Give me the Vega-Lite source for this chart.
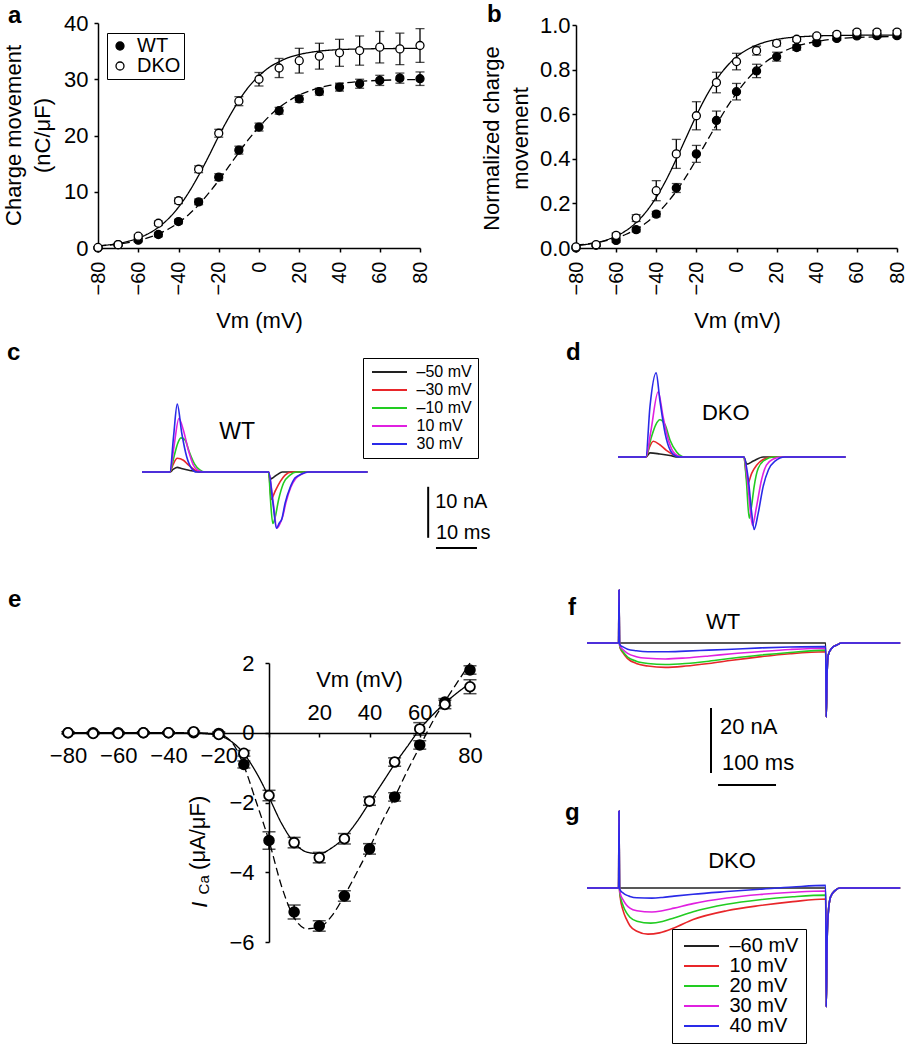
{
"$schema": "https://vega.github.io/schema/vega-lite/v6.json",
"width": 907, "height": 1050,
"autosize": {"type": "none"},
"padding": 0,
"background": "white",
"config": {
 "font": "Liberation Sans",
 "view": {"stroke": null},
 "axis": {"grid": false, "domainColor": "black", "domainWidth": 1.5, "tickColor": "black", "tickWidth": 1.5, "tickSize": 4, "labelColor": "black", "titleColor": "black", "labelFontSize": 22, "titleFontSize": 22, "titleFontWeight": "normal", "labelFont": "Liberation Sans", "titleFont": "Liberation Sans", "labelFlush": false, "labelOverlap": false},
 "legend": {"labelFont": "Liberation Sans", "labelColor": "black"},
 "text": {"color": "black", "font": "Liberation Sans"}
},
"datasets": {
 "curveA": [
  {"g":"WT","v":-80,"q":0.36},{"g":"WT","v":-75,"q":0.5},{"g":"WT","v":-70,"q":0.7},{"g":"WT","v":-65,"q":0.97},{"g":"WT","v":-60,"q":1.33},{"g":"WT","v":-55,"q":1.83},{"g":"WT","v":-50,"q":2.5},{"g":"WT","v":-45,"q":3.37},{"g":"WT","v":-40,"q":4.5},{"g":"WT","v":-35,"q":5.93},{"g":"WT","v":-30,"q":7.66},{"g":"WT","v":-25,"q":9.74},{"g":"WT","v":-20,"q":12.04},{"g":"WT","v":-15,"q":14.5},{"g":"WT","v":-10,"q":17.0},{"g":"WT","v":-5,"q":19.4},{"g":"WT","v":0,"q":21.5},{"g":"WT","v":5,"q":23.4},{"g":"WT","v":10,"q":24.96},{"g":"WT","v":15,"q":26.2},{"g":"WT","v":20,"q":27.2},{"g":"WT","v":25,"q":27.9},{"g":"WT","v":30,"q":28.5},{"g":"WT","v":35,"q":28.9},{"g":"WT","v":40,"q":29.2},{"g":"WT","v":50,"q":29.6},{"g":"WT","v":60,"q":29.8},{"g":"WT","v":70,"q":29.9},{"g":"WT","v":80,"q":29.95},
  {"g":"DKO","v":-80,"q":0.37},{"g":"DKO","v":-75,"q":0.55},{"g":"DKO","v":-70,"q":0.81},{"g":"DKO","v":-65,"q":1.19},{"g":"DKO","v":-60,"q":1.75},{"g":"DKO","v":-55,"q":2.55},{"g":"DKO","v":-50,"q":3.67},{"g":"DKO","v":-45,"q":5.21},{"g":"DKO","v":-40,"q":7.25},{"g":"DKO","v":-35,"q":9.83},{"g":"DKO","v":-30,"q":12.9},{"g":"DKO","v":-25,"q":16.3},{"g":"DKO","v":-20,"q":19.9},{"g":"DKO","v":-15,"q":23.2},{"g":"DKO","v":-10,"q":26.2},{"g":"DKO","v":-5,"q":28.7},{"g":"DKO","v":0,"q":30.6},{"g":"DKO","v":5,"q":32.1},{"g":"DKO","v":10,"q":33.1},{"g":"DKO","v":15,"q":33.9},{"g":"DKO","v":20,"q":34.4},{"g":"DKO","v":25,"q":34.75},{"g":"DKO","v":30,"q":35.0},{"g":"DKO","v":40,"q":35.27},{"g":"DKO","v":50,"q":35.38},{"g":"DKO","v":60,"q":35.44},{"g":"DKO","v":70,"q":35.47},{"g":"DKO","v":80,"q":35.49}
 ],
 "ptsA": [
  {"g":"WT","v":-80,"q":0,"lo":-0.2,"hi":0.2},{"g":"WT","v":-70,"q":0.6,"lo":0.4,"hi":0.8},{"g":"WT","v":-60,"q":1.4,"lo":1.1,"hi":1.7},{"g":"WT","v":-50,"q":2.4,"lo":2.0,"hi":2.8},{"g":"WT","v":-40,"q":4.7,"lo":4.3,"hi":5.1},{"g":"WT","v":-30,"q":8.2,"lo":7.7,"hi":8.7},{"g":"WT","v":-20,"q":12.6,"lo":12.0,"hi":13.2},{"g":"WT","v":-10,"q":17.4,"lo":16.7,"hi":18.1},{"g":"WT","v":0,"q":21.5,"lo":20.8,"hi":22.2},{"g":"WT","v":10,"q":24.4,"lo":23.8,"hi":25.0},{"g":"WT","v":20,"q":26.5,"lo":25.9,"hi":27.1},{"g":"WT","v":30,"q":27.8,"lo":27.2,"hi":28.4},{"g":"WT","v":40,"q":28.6,"lo":27.9,"hi":29.3},{"g":"WT","v":50,"q":29.2,"lo":28.4,"hi":30.0},{"g":"WT","v":60,"q":29.8,"lo":28.9,"hi":30.7},{"g":"WT","v":70,"q":30.2,"lo":29.3,"hi":31.1},{"g":"WT","v":80,"q":30.1,"lo":28.9,"hi":31.3},
  {"g":"DKO","v":-80,"q":0.1,"lo":0.0,"hi":0.2},{"g":"DKO","v":-70,"q":0.6,"lo":0.4,"hi":0.8},{"g":"DKO","v":-60,"q":2.1,"lo":1.8,"hi":2.4},{"g":"DKO","v":-50,"q":4.4,"lo":4.0,"hi":4.8},{"g":"DKO","v":-40,"q":8.4,"lo":7.9,"hi":8.9},{"g":"DKO","v":-30,"q":14.0,"lo":13.4,"hi":14.6},{"g":"DKO","v":-20,"q":20.4,"lo":19.7,"hi":21.1},{"g":"DKO","v":-10,"q":26.1,"lo":25.3,"hi":26.9},{"g":"DKO","v":0,"q":30.0,"lo":28.8,"hi":31.2},{"g":"DKO","v":10,"q":32.0,"lo":30.3,"hi":33.7},{"g":"DKO","v":20,"q":33.3,"lo":31.1,"hi":35.5},{"g":"DKO","v":30,"q":34.1,"lo":31.8,"hi":36.4},{"g":"DKO","v":40,"q":34.7,"lo":32.3,"hi":37.1},{"g":"DKO","v":50,"q":35.1,"lo":32.5,"hi":37.7},{"g":"DKO","v":60,"q":35.7,"lo":32.9,"hi":38.5},{"g":"DKO","v":70,"q":35.4,"lo":32.6,"hi":38.2},{"g":"DKO","v":80,"q":36.0,"lo":33.0,"hi":39.0}
 ],
 "curveB": [
  {"g":"WT","v":-80,"q":0.0123},{"g":"WT","v":-75,"q":0.0171},{"g":"WT","v":-70,"q":0.0237},{"g":"WT","v":-65,"q":0.0328},{"g":"WT","v":-60,"q":0.045},{"g":"WT","v":-55,"q":0.0617},{"g":"WT","v":-50,"q":0.084},{"g":"WT","v":-45,"q":0.113},{"g":"WT","v":-40,"q":0.151},{"g":"WT","v":-35,"q":0.198},{"g":"WT","v":-30,"q":0.255},{"g":"WT","v":-25,"q":0.322},{"g":"WT","v":-20,"q":0.397},{"g":"WT","v":-15,"q":0.475},{"g":"WT","v":-10,"q":0.553},{"g":"WT","v":-5,"q":0.628},{"g":"WT","v":0,"q":0.694},{"g":"WT","v":5,"q":0.752},{"g":"WT","v":10,"q":0.799},{"g":"WT","v":15,"q":0.837},{"g":"WT","v":20,"q":0.866},{"g":"WT","v":25,"q":0.888},{"g":"WT","v":30,"q":0.905},{"g":"WT","v":35,"q":0.917},{"g":"WT","v":40,"q":0.926},{"g":"WT","v":50,"q":0.938},{"g":"WT","v":60,"q":0.944},{"g":"WT","v":70,"q":0.947},{"g":"WT","v":80,"q":0.948},
  {"g":"DKO","v":-80,"q":0.0105},{"g":"DKO","v":-75,"q":0.0158},{"g":"DKO","v":-70,"q":0.0238},{"g":"DKO","v":-65,"q":0.0356},{"g":"DKO","v":-60,"q":0.0531},{"g":"DKO","v":-55,"q":0.0783},{"g":"DKO","v":-50,"q":0.114},{"g":"DKO","v":-45,"q":0.163},{"g":"DKO","v":-40,"q":0.227},{"g":"DKO","v":-35,"q":0.306},{"g":"DKO","v":-30,"q":0.399},{"g":"DKO","v":-25,"q":0.497},{"g":"DKO","v":-20,"q":0.594},{"g":"DKO","v":-15,"q":0.682},{"g":"DKO","v":-10,"q":0.755},{"g":"DKO","v":-5,"q":0.813},{"g":"DKO","v":0,"q":0.857},{"g":"DKO","v":5,"q":0.888},{"g":"DKO","v":10,"q":0.91},{"g":"DKO","v":15,"q":0.925},{"g":"DKO","v":20,"q":0.935},{"g":"DKO","v":25,"q":0.942},{"g":"DKO","v":30,"q":0.946},{"g":"DKO","v":40,"q":0.951},{"g":"DKO","v":50,"q":0.953},{"g":"DKO","v":60,"q":0.954},{"g":"DKO","v":70,"q":0.955},{"g":"DKO","v":80,"q":0.955}
 ],
 "ptsB": [
  {"g":"WT","v":-80,"q":0.0,"lo":-0.005,"hi":0.005},{"g":"WT","v":-70,"q":0.012,"lo":0.007,"hi":0.017},{"g":"WT","v":-60,"q":0.034,"lo":0.026,"hi":0.042},{"g":"WT","v":-50,"q":0.082,"lo":0.072,"hi":0.092},{"g":"WT","v":-40,"q":0.152,"lo":0.14,"hi":0.164},{"g":"WT","v":-30,"q":0.269,"lo":0.249,"hi":0.289},{"g":"WT","v":-20,"q":0.422,"lo":0.384,"hi":0.46},{"g":"WT","v":-10,"q":0.572,"lo":0.53,"hi":0.614},{"g":"WT","v":0,"q":0.701,"lo":0.664,"hi":0.738},{"g":"WT","v":10,"q":0.794,"lo":0.764,"hi":0.824},{"g":"WT","v":20,"q":0.858,"lo":0.838,"hi":0.878},{"g":"WT","v":30,"q":0.899,"lo":0.887,"hi":0.911},{"g":"WT","v":40,"q":0.921,"lo":0.911,"hi":0.931},{"g":"WT","v":50,"q":0.94,"lo":0.932,"hi":0.948},{"g":"WT","v":60,"q":0.951,"lo":0.943,"hi":0.959},{"g":"WT","v":70,"q":0.952,"lo":0.944,"hi":0.96},{"g":"WT","v":80,"q":0.952,"lo":0.944,"hi":0.96},
  {"g":"DKO","v":-80,"q":0.005,"lo":0.0,"hi":0.01},{"g":"DKO","v":-70,"q":0.015,"lo":0.01,"hi":0.02},{"g":"DKO","v":-60,"q":0.057,"lo":0.047,"hi":0.067},{"g":"DKO","v":-50,"q":0.134,"lo":0.119,"hi":0.149},{"g":"DKO","v":-40,"q":0.257,"lo":0.212,"hi":0.302},{"g":"DKO","v":-30,"q":0.422,"lo":0.357,"hi":0.487},{"g":"DKO","v":-20,"q":0.593,"lo":0.53,"hi":0.656},{"g":"DKO","v":-10,"q":0.742,"lo":0.696,"hi":0.788},{"g":"DKO","v":0,"q":0.836,"lo":0.799,"hi":0.873},{"g":"DKO","v":10,"q":0.885,"lo":0.865,"hi":0.905},{"g":"DKO","v":20,"q":0.918,"lo":0.906,"hi":0.93},{"g":"DKO","v":30,"q":0.936,"lo":0.926,"hi":0.946},{"g":"DKO","v":40,"q":0.951,"lo":0.943,"hi":0.959},{"g":"DKO","v":50,"q":0.958,"lo":0.95,"hi":0.966},{"g":"DKO","v":60,"q":0.968,"lo":0.96,"hi":0.976},{"g":"DKO","v":70,"q":0.968,"lo":0.96,"hi":0.976},{"g":"DKO","v":80,"q":0.968,"lo":0.96,"hi":0.976}
 ],
 "curveE": [
  {"g":"WT","v":-80,"q":0},{"g":"WT","v":-60,"q":0},{"g":"WT","v":-40,"q":0},{"g":"WT","v":-30,"q":0},{"g":"WT","v":-25,"q":-0.01},{"g":"WT","v":-20,"q":-0.05},{"g":"WT","v":-15,"q":-0.25},{"g":"WT","v":-10,"q":-0.95},{"g":"WT","v":-5,"q":-2.0},{"g":"WT","v":0,"q":-3.1},{"g":"WT","v":5,"q":-4.4},{"g":"WT","v":10,"q":-5.3},{"g":"WT","v":15,"q":-5.62},{"g":"WT","v":20,"q":-5.58},{"g":"WT","v":25,"q":-5.25},{"g":"WT","v":30,"q":-4.67},{"g":"WT","v":35,"q":-4.0},{"g":"WT","v":40,"q":-3.3},{"g":"WT","v":45,"q":-2.55},{"g":"WT","v":50,"q":-1.85},{"g":"WT","v":55,"q":-1.1},{"g":"WT","v":60,"q":-0.4},{"g":"WT","v":65,"q":0.3},{"g":"WT","v":70,"q":0.9},{"g":"WT","v":75,"q":1.45},{"g":"WT","v":80,"q":2.0},
  {"g":"DKO","v":-80,"q":0},{"g":"DKO","v":-60,"q":0},{"g":"DKO","v":-40,"q":0},{"g":"DKO","v":-30,"q":-0.01},{"g":"DKO","v":-25,"q":-0.03},{"g":"DKO","v":-20,"q":-0.08},{"g":"DKO","v":-15,"q":-0.25},{"g":"DKO","v":-10,"q":-0.6},{"g":"DKO","v":-5,"q":-1.15},{"g":"DKO","v":0,"q":-1.85},{"g":"DKO","v":5,"q":-2.6},{"g":"DKO","v":10,"q":-3.15},{"g":"DKO","v":15,"q":-3.42},{"g":"DKO","v":20,"q":-3.47},{"g":"DKO","v":25,"q":-3.3},{"g":"DKO","v":30,"q":-3.0},{"g":"DKO","v":35,"q":-2.55},{"g":"DKO","v":40,"q":-2.0},{"g":"DKO","v":45,"q":-1.45},{"g":"DKO","v":50,"q":-0.9},{"g":"DKO","v":55,"q":-0.4},{"g":"DKO","v":60,"q":0.1},{"g":"DKO","v":65,"q":0.5},{"g":"DKO","v":70,"q":0.85},{"g":"DKO","v":75,"q":1.15},{"g":"DKO","v":80,"q":1.42}
 ],
 "ptsE": [
  {"g":"WT","v":-80,"q":0,"lo":-0.03,"hi":0.03},{"g":"WT","v":-70,"q":0,"lo":-0.03,"hi":0.03},{"g":"WT","v":-60,"q":0,"lo":-0.03,"hi":0.03},{"g":"WT","v":-50,"q":0,"lo":-0.03,"hi":0.03},{"g":"WT","v":-40,"q":0,"lo":-0.03,"hi":0.03},{"g":"WT","v":-30,"q":0,"lo":-0.03,"hi":0.03},{"g":"WT","v":-20,"q":-0.02,"lo":-0.07,"hi":0.03},{"g":"WT","v":-10,"q":-0.91,"lo":-1.01,"hi":-0.81},{"g":"WT","v":0,"q":-3.09,"lo":-3.34,"hi":-2.84},{"g":"WT","v":10,"q":-5.14,"lo":-5.34,"hi":-4.94},{"g":"WT","v":20,"q":-5.54,"lo":-5.69,"hi":-5.39},{"g":"WT","v":30,"q":-4.68,"lo":-4.83,"hi":-4.53},{"g":"WT","v":40,"q":-3.33,"lo":-3.48,"hi":-3.18},{"g":"WT","v":50,"q":-1.84,"lo":-1.96,"hi":-1.72},{"g":"WT","v":60,"q":-0.35,"lo":-0.47,"hi":-0.23},{"g":"WT","v":70,"q":0.88,"lo":0.78,"hi":0.98},{"g":"WT","v":80,"q":1.8,"lo":1.68,"hi":1.92},
  {"g":"DKO","v":-80,"q":0,"lo":-0.03,"hi":0.03},{"g":"DKO","v":-70,"q":-0.02,"lo":-0.05,"hi":0.01},{"g":"DKO","v":-60,"q":-0.02,"lo":-0.05,"hi":0.01},{"g":"DKO","v":-50,"q":0,"lo":-0.03,"hi":0.03},{"g":"DKO","v":-40,"q":0,"lo":-0.03,"hi":0.03},{"g":"DKO","v":-30,"q":0.03,"lo":0,"hi":0.06},{"g":"DKO","v":-20,"q":-0.05,"lo":-0.1,"hi":0},{"g":"DKO","v":-10,"q":-0.59,"lo":-0.67,"hi":-0.51},{"g":"DKO","v":0,"q":-1.8,"lo":-1.95,"hi":-1.65},{"g":"DKO","v":10,"q":-3.15,"lo":-3.3,"hi":-3.0},{"g":"DKO","v":20,"q":-3.58,"lo":-3.73,"hi":-3.43},{"g":"DKO","v":30,"q":-3.04,"lo":-3.19,"hi":-2.89},{"g":"DKO","v":40,"q":-1.96,"lo":-2.08,"hi":-1.84},{"g":"DKO","v":50,"q":-0.84,"lo":-0.96,"hi":-0.72},{"g":"DKO","v":60,"q":0.11,"lo":-0.07,"hi":0.29},{"g":"DKO","v":70,"q":0.81,"lo":0.69,"hi":0.93},{"g":"DKO","v":80,"q":1.32,"lo":1.12,"hi":1.52}
 ],
 "trC": [
  {"v":"–50 mV","t":0,"i":0},{"v":"–50 mV","t":6.8,"i":0},{"v":"–50 mV","t":7.6,"i":0.5},{"v":"–50 mV","t":8.6,"i":0.9},{"v":"–50 mV","t":9.6,"i":0.7},{"v":"–50 mV","t":10.9,"i":0.45},{"v":"–50 mV","t":12,"i":0.25},{"v":"–50 mV","t":13.3,"i":0.1},{"v":"–50 mV","t":14.5,"i":0},{"v":"–50 mV","t":30.9,"i":0},{"v":"–50 mV","t":31.2,"i":-1.4},{"v":"–50 mV","t":32,"i":-1.1},{"v":"–50 mV","t":33,"i":-0.5},{"v":"–50 mV","t":34.2,"i":0},{"v":"–50 mV","t":55,"i":0},
  {"v":"–30 mV","t":0,"i":0},{"v":"–30 mV","t":6.8,"i":0},{"v":"–30 mV","t":7.6,"i":1.5},{"v":"–30 mV","t":8.6,"i":2.7},{"v":"–30 mV","t":10.1,"i":2.3},{"v":"–30 mV","t":11.3,"i":1.4},{"v":"–30 mV","t":12.7,"i":0.5},{"v":"–30 mV","t":14.1,"i":0},{"v":"–30 mV","t":30.9,"i":0},{"v":"–30 mV","t":31.5,"i":-5.4},{"v":"–30 mV","t":32.4,"i":-3.9},{"v":"–30 mV","t":33.7,"i":-1.9},{"v":"–30 mV","t":34.9,"i":-0.6},{"v":"–30 mV","t":36.5,"i":0},{"v":"–30 mV","t":55,"i":0},
  {"v":"–10 mV","t":0,"i":0},{"v":"–10 mV","t":6.8,"i":0},{"v":"–10 mV","t":7.8,"i":3.0},{"v":"–10 mV","t":8.7,"i":5.6},{"v":"–10 mV","t":9.5,"i":6.7},{"v":"–10 mV","t":10.5,"i":6.3},{"v":"–10 mV","t":11.5,"i":4.0},{"v":"–10 mV","t":12.8,"i":1.6},{"v":"–10 mV","t":14.1,"i":0.4},{"v":"–10 mV","t":15.4,"i":0},{"v":"–10 mV","t":30.9,"i":0},{"v":"–10 mV","t":31.3,"i":-5},{"v":"–10 mV","t":31.9,"i":-10.1},{"v":"–10 mV","t":32.5,"i":-8.8},{"v":"–10 mV","t":33.3,"i":-5.5},{"v":"–10 mV","t":34.5,"i":-2.2},{"v":"–10 mV","t":36.1,"i":-0.6},{"v":"–10 mV","t":37.7,"i":0},{"v":"–10 mV","t":55,"i":0},
  {"v":"10 mV","t":0,"i":0},{"v":"10 mV","t":6.8,"i":0},{"v":"10 mV","t":7.8,"i":5},{"v":"10 mV","t":9.0,"i":10.5},{"v":"10 mV","t":10.1,"i":8.2},{"v":"10 mV","t":11.3,"i":4.3},{"v":"10 mV","t":12.5,"i":1.4},{"v":"10 mV","t":13.7,"i":0.3},{"v":"10 mV","t":15,"i":0},{"v":"10 mV","t":30.9,"i":0},{"v":"10 mV","t":32,"i":-6},{"v":"10 mV","t":32.9,"i":-11},{"v":"10 mV","t":33.6,"i":-10.2},{"v":"10 mV","t":34.3,"i":-8.8},{"v":"10 mV","t":35.1,"i":-6.0},{"v":"10 mV","t":36.3,"i":-3.0},{"v":"10 mV","t":37.5,"i":-1.3},{"v":"10 mV","t":39,"i":-0.4},{"v":"10 mV","t":40.7,"i":0},{"v":"10 mV","t":55,"i":0},
  {"v":"30 mV","t":0,"i":0},{"v":"30 mV","t":6.8,"i":0},{"v":"30 mV","t":7.7,"i":7},{"v":"30 mV","t":8.6,"i":13.3},{"v":"30 mV","t":9.7,"i":7.6},{"v":"30 mV","t":10.9,"i":3.0},{"v":"30 mV","t":12.1,"i":0.7},{"v":"30 mV","t":13.3,"i":0},{"v":"30 mV","t":30.9,"i":0},{"v":"30 mV","t":31.9,"i":-5.8},{"v":"30 mV","t":32.8,"i":-11},{"v":"30 mV","t":33.5,"i":-10},{"v":"30 mV","t":34.1,"i":-9.2},{"v":"30 mV","t":34.9,"i":-6.1},{"v":"30 mV","t":36.1,"i":-3.1},{"v":"30 mV","t":37.3,"i":-1.2},{"v":"30 mV","t":38.9,"i":-0.4},{"v":"30 mV","t":40.5,"i":0},{"v":"30 mV","t":55,"i":0}
 ],
 "trD": [
  {"v":"–50 mV","t":0,"i":0},{"v":"–50 mV","t":6.8,"i":0},{"v":"–50 mV","t":7.8,"i":0.8},{"v":"–50 mV","t":10.2,"i":0.6},{"v":"–50 mV","t":12.7,"i":0.3},{"v":"–50 mV","t":14.6,"i":0},{"v":"–50 mV","t":30.7,"i":0},{"v":"–50 mV","t":31.4,"i":-1.4},{"v":"–50 mV","t":33,"i":-0.8},{"v":"–50 mV","t":35.4,"i":0},{"v":"–50 mV","t":55.5,"i":0},
  {"v":"–30 mV","t":0,"i":0},{"v":"–30 mV","t":6.8,"i":0},{"v":"–30 mV","t":7.6,"i":1.8},{"v":"–30 mV","t":8.6,"i":3.1},{"v":"–30 mV","t":10.2,"i":2.4},{"v":"–30 mV","t":11.8,"i":1.3},{"v":"–30 mV","t":13.9,"i":0.3},{"v":"–30 mV","t":15.6,"i":0},{"v":"–30 mV","t":30.7,"i":0},{"v":"–30 mV","t":31.6,"i":-5.3},{"v":"–30 mV","t":32.6,"i":-3.2},{"v":"–30 mV","t":33.8,"i":-1.6},{"v":"–30 mV","t":35.4,"i":-0.5},{"v":"–30 mV","t":37.5,"i":0},{"v":"–30 mV","t":55.5,"i":0},
  {"v":"–10 mV","t":0,"i":0},{"v":"–10 mV","t":6.8,"i":0},{"v":"–10 mV","t":8,"i":3.5},{"v":"–10 mV","t":9.2,"i":6.3},{"v":"–10 mV","t":10.2,"i":7.3},{"v":"–10 mV","t":11.5,"i":6.3},{"v":"–10 mV","t":12.7,"i":3.3},{"v":"–10 mV","t":14.3,"i":1.0},{"v":"–10 mV","t":16.3,"i":0},{"v":"–10 mV","t":30.7,"i":0},{"v":"–10 mV","t":31.3,"i":-4.5},{"v":"–10 mV","t":32,"i":-12},{"v":"–10 mV","t":32.6,"i":-9.5},{"v":"–10 mV","t":33.2,"i":-5.8},{"v":"–10 mV","t":34.2,"i":-2.2},{"v":"–10 mV","t":35.8,"i":-0.6},{"v":"–10 mV","t":37.9,"i":0},{"v":"–10 mV","t":55.5,"i":0},
  {"v":"10 mV","t":0,"i":0},{"v":"10 mV","t":6.8,"i":0},{"v":"10 mV","t":8,"i":5},{"v":"10 mV","t":9.8,"i":12.8},{"v":"10 mV","t":11,"i":7.9},{"v":"10 mV","t":12.3,"i":3.3},{"v":"10 mV","t":13.9,"i":0.6},{"v":"10 mV","t":15.5,"i":0},{"v":"10 mV","t":30.7,"i":0},{"v":"10 mV","t":31.5,"i":-4},{"v":"10 mV","t":32.8,"i":-13.4},{"v":"10 mV","t":33.8,"i":-9.7},{"v":"10 mV","t":35,"i":-4.5},{"v":"10 mV","t":36.2,"i":-1.6},{"v":"10 mV","t":37.9,"i":-0.4},{"v":"10 mV","t":39.9,"i":0},{"v":"10 mV","t":55.5,"i":0},
  {"v":"30 mV","t":0,"i":0},{"v":"30 mV","t":6.8,"i":0},{"v":"30 mV","t":7.8,"i":9.9},{"v":"30 mV","t":9.3,"i":16.5},{"v":"30 mV","t":10.2,"i":11.2},{"v":"30 mV","t":11.5,"i":4.6},{"v":"30 mV","t":12.7,"i":1.4},{"v":"30 mV","t":14.3,"i":0.1},{"v":"30 mV","t":15,"i":0},{"v":"30 mV","t":30.7,"i":0},{"v":"30 mV","t":31.8,"i":-4.5},{"v":"30 mV","t":32.6,"i":-10.9},{"v":"30 mV","t":33.2,"i":-14.2},{"v":"30 mV","t":34.2,"i":-11},{"v":"30 mV","t":35.4,"i":-5.8},{"v":"30 mV","t":36.7,"i":-2.5},{"v":"30 mV","t":38.3,"i":-0.8},{"v":"30 mV","t":40.7,"i":0},{"v":"30 mV","t":55.5,"i":0}
 ],
 "trF": [
  {"v":"–60 mV","t":0,"i":0},{"v":"–60 mV","t":54.5,"i":0},{"v":"–60 mV","t":55.2,"i":16.3},{"v":"–60 mV","t":56,"i":0},{"v":"–60 mV","t":411.5,"i":0},{"v":"–60 mV","t":412.5,"i":-22.8},{"v":"–60 mV","t":414,"i":-9},{"v":"–60 mV","t":416,"i":-3.7},{"v":"–60 mV","t":422,"i":-1.6},{"v":"–60 mV","t":431,"i":-0.6},{"v":"–60 mV","t":439,"i":0},{"v":"–60 mV","t":540,"i":0},
  {"v":"10 mV","t":0,"i":0},{"v":"10 mV","t":54.5,"i":0},{"v":"10 mV","t":55.2,"i":16.3},{"v":"10 mV","t":56,"i":0},{"v":"10 mV","t":57,"i":-1.5},{"v":"10 mV","t":62,"i":-3.0},{"v":"10 mV","t":70,"i":-4.8},{"v":"10 mV","t":85,"i":-6.3},{"v":"10 mV","t":105,"i":-7.1},{"v":"10 mV","t":135,"i":-7.5},{"v":"10 mV","t":170,"i":-7.1},{"v":"10 mV","t":210,"i":-6.3},{"v":"10 mV","t":250,"i":-5.3},{"v":"10 mV","t":300,"i":-4.2},{"v":"10 mV","t":350,"i":-3.3},{"v":"10 mV","t":411.5,"i":-2.7},{"v":"10 mV","t":412.5,"i":-22.8},{"v":"10 mV","t":414,"i":-9},{"v":"10 mV","t":416,"i":-3.7},{"v":"10 mV","t":422,"i":-1.6},{"v":"10 mV","t":431,"i":-0.6},{"v":"10 mV","t":439,"i":0},{"v":"10 mV","t":540,"i":0},
  {"v":"20 mV","t":0,"i":0},{"v":"20 mV","t":54.5,"i":0},{"v":"20 mV","t":55.2,"i":16.3},{"v":"20 mV","t":56,"i":0},{"v":"20 mV","t":57,"i":-1.3},{"v":"20 mV","t":62,"i":-2.7},{"v":"20 mV","t":70,"i":-4.3},{"v":"20 mV","t":85,"i":-5.6},{"v":"20 mV","t":105,"i":-6.3},{"v":"20 mV","t":135,"i":-6.6},{"v":"20 mV","t":170,"i":-6.3},{"v":"20 mV","t":210,"i":-5.6},{"v":"20 mV","t":250,"i":-4.7},{"v":"20 mV","t":300,"i":-3.7},{"v":"20 mV","t":350,"i":-2.9},{"v":"20 mV","t":411.5,"i":-2.2},{"v":"20 mV","t":412.5,"i":-22.8},{"v":"20 mV","t":414,"i":-9},{"v":"20 mV","t":416,"i":-3.7},{"v":"20 mV","t":422,"i":-1.6},{"v":"20 mV","t":431,"i":-0.6},{"v":"20 mV","t":439,"i":0},{"v":"20 mV","t":540,"i":0},
  {"v":"30 mV","t":0,"i":0},{"v":"30 mV","t":54.5,"i":0},{"v":"30 mV","t":55.2,"i":16.3},{"v":"30 mV","t":56,"i":0},{"v":"30 mV","t":57,"i":-1.0},{"v":"30 mV","t":62,"i":-2.0},{"v":"30 mV","t":70,"i":-3.2},{"v":"30 mV","t":85,"i":-4.2},{"v":"30 mV","t":105,"i":-4.7},{"v":"30 mV","t":135,"i":-4.9},{"v":"30 mV","t":170,"i":-4.6},{"v":"30 mV","t":210,"i":-4.0},{"v":"30 mV","t":250,"i":-3.3},{"v":"30 mV","t":300,"i":-2.6},{"v":"30 mV","t":350,"i":-2.0},{"v":"30 mV","t":411.5,"i":-1.6},{"v":"30 mV","t":412.5,"i":-22.8},{"v":"30 mV","t":414,"i":-9},{"v":"30 mV","t":416,"i":-3.7},{"v":"30 mV","t":422,"i":-1.6},{"v":"30 mV","t":431,"i":-0.6},{"v":"30 mV","t":439,"i":0},{"v":"30 mV","t":540,"i":0},
  {"v":"40 mV","t":0,"i":0},{"v":"40 mV","t":54.5,"i":0},{"v":"40 mV","t":55.2,"i":16.3},{"v":"40 mV","t":56,"i":0},{"v":"40 mV","t":57,"i":-0.6},{"v":"40 mV","t":62,"i":-1.2},{"v":"40 mV","t":70,"i":-1.9},{"v":"40 mV","t":85,"i":-2.4},{"v":"40 mV","t":105,"i":-2.7},{"v":"40 mV","t":135,"i":-2.7},{"v":"40 mV","t":170,"i":-2.5},{"v":"40 mV","t":210,"i":-2.2},{"v":"40 mV","t":250,"i":-1.9},{"v":"40 mV","t":300,"i":-1.5},{"v":"40 mV","t":350,"i":-1.25},{"v":"40 mV","t":411.5,"i":-1.1},{"v":"40 mV","t":412.5,"i":-22.8},{"v":"40 mV","t":414,"i":-9},{"v":"40 mV","t":416,"i":-3.7},{"v":"40 mV","t":422,"i":-1.6},{"v":"40 mV","t":431,"i":-0.6},{"v":"40 mV","t":439,"i":0},{"v":"40 mV","t":540,"i":0}
 ],
 "trG": [
  {"v":"–60 mV","t":0,"i":0},{"v":"–60 mV","t":54.5,"i":0},{"v":"–60 mV","t":55.2,"i":23.7},{"v":"–60 mV","t":56,"i":0},{"v":"–60 mV","t":411.5,"i":0},{"v":"–60 mV","t":412.5,"i":-36.6},{"v":"–60 mV","t":414,"i":-16},{"v":"–60 mV","t":416,"i":-7.7},{"v":"–60 mV","t":420,"i":-2.7},{"v":"–60 mV","t":427.6,"i":-0.8},{"v":"–60 mV","t":436,"i":0},{"v":"–60 mV","t":540,"i":0},
  {"v":"10 mV","t":0,"i":0},{"v":"10 mV","t":54.5,"i":0},{"v":"10 mV","t":55.2,"i":23.7},{"v":"10 mV","t":56,"i":0},{"v":"10 mV","t":57,"i":-2.5},{"v":"10 mV","t":62,"i":-6.8},{"v":"10 mV","t":68,"i":-9.6},{"v":"10 mV","t":74,"i":-11.6},{"v":"10 mV","t":86,"i":-13.3},{"v":"10 mV","t":105,"i":-14.2},{"v":"10 mV","t":125,"i":-13.8},{"v":"10 mV","t":150,"i":-12.3},{"v":"10 mV","t":183,"i":-9.7},{"v":"10 mV","t":241,"i":-7.0},{"v":"10 mV","t":298,"i":-5.4},{"v":"10 mV","t":355,"i":-4.2},{"v":"10 mV","t":411.5,"i":-3.4},{"v":"10 mV","t":412.5,"i":-36.6},{"v":"10 mV","t":414,"i":-16},{"v":"10 mV","t":416,"i":-7.7},{"v":"10 mV","t":420,"i":-2.7},{"v":"10 mV","t":427.6,"i":-0.8},{"v":"10 mV","t":436,"i":0},{"v":"10 mV","t":540,"i":0},
  {"v":"20 mV","t":0,"i":0},{"v":"20 mV","t":54.5,"i":0},{"v":"20 mV","t":55.2,"i":23.7},{"v":"20 mV","t":56,"i":0},{"v":"20 mV","t":57,"i":-2.0},{"v":"20 mV","t":62,"i":-5.3},{"v":"20 mV","t":68,"i":-7.6},{"v":"20 mV","t":74,"i":-9.0},{"v":"20 mV","t":86,"i":-10.2},{"v":"20 mV","t":110,"i":-10.8},{"v":"20 mV","t":130,"i":-10.3},{"v":"20 mV","t":150,"i":-9.2},{"v":"20 mV","t":183,"i":-7.3},{"v":"20 mV","t":241,"i":-5.0},{"v":"20 mV","t":298,"i":-3.6},{"v":"20 mV","t":355,"i":-2.7},{"v":"20 mV","t":411.5,"i":-2.2},{"v":"20 mV","t":412.5,"i":-36.6},{"v":"20 mV","t":414,"i":-16},{"v":"20 mV","t":416,"i":-7.7},{"v":"20 mV","t":420,"i":-2.7},{"v":"20 mV","t":427.6,"i":-0.8},{"v":"20 mV","t":436,"i":0},{"v":"20 mV","t":540,"i":0},
  {"v":"30 mV","t":0,"i":0},{"v":"30 mV","t":54.5,"i":0},{"v":"30 mV","t":55.2,"i":23.7},{"v":"30 mV","t":56,"i":0},{"v":"30 mV","t":57,"i":-1.4},{"v":"30 mV","t":62,"i":-3.6},{"v":"30 mV","t":68,"i":-5.2},{"v":"30 mV","t":74,"i":-6.2},{"v":"30 mV","t":86,"i":-7.0},{"v":"30 mV","t":112,"i":-7.4},{"v":"30 mV","t":130,"i":-7.0},{"v":"30 mV","t":150,"i":-6.2},{"v":"30 mV","t":183,"i":-4.8},{"v":"30 mV","t":241,"i":-3.1},{"v":"30 mV","t":298,"i":-2.0},{"v":"30 mV","t":355,"i":-1.3},{"v":"30 mV","t":411.5,"i":-0.9},{"v":"30 mV","t":412.5,"i":-36.6},{"v":"30 mV","t":414,"i":-16},{"v":"30 mV","t":416,"i":-7.7},{"v":"30 mV","t":420,"i":-2.7},{"v":"30 mV","t":427.6,"i":-0.8},{"v":"30 mV","t":436,"i":0},{"v":"30 mV","t":540,"i":0},
  {"v":"40 mV","t":0,"i":0},{"v":"40 mV","t":54.5,"i":0},{"v":"40 mV","t":55.2,"i":23.7},{"v":"40 mV","t":56,"i":0},{"v":"40 mV","t":57,"i":-0.6},{"v":"40 mV","t":62,"i":-1.5},{"v":"40 mV","t":68,"i":-2.2},{"v":"40 mV","t":74,"i":-2.6},{"v":"40 mV","t":86,"i":-3.0},{"v":"40 mV","t":112,"i":-3.1},{"v":"40 mV","t":130,"i":-2.9},{"v":"40 mV","t":150,"i":-2.5},{"v":"40 mV","t":183,"i":-1.9},{"v":"40 mV","t":241,"i":-1.1},{"v":"40 mV","t":298,"i":-0.4},{"v":"40 mV","t":355,"i":0.3},{"v":"40 mV","t":411.5,"i":0.8},{"v":"40 mV","t":412.5,"i":-36.6},{"v":"40 mV","t":414,"i":-16},{"v":"40 mV","t":416,"i":-7.7},{"v":"40 mV","t":420,"i":-2.7},{"v":"40 mV","t":427.6,"i":-0.8},{"v":"40 mV","t":436,"i":0},{"v":"40 mV","t":540,"i":0}
 ]
},
"layer": [
 {"resolve": {"axis": {"x": "independent", "y": "independent"}},
  "layer": [
  {"data": {"name": "curveA"},
   "mark": {"type": "line", "color": "black", "strokeWidth": 1.3, "interpolate": "monotone"},
   "encoding": {
    "x": {"field": "v", "type": "quantitative", "scale": {"domain": [-80, 80], "range": [98, 420], "nice": false, "zero": false},
          "axis": {"orient": "bottom", "offset": -802, "values": [-80,-60,-40,-20,0,20,40,60,80], "labelAngle": 270, "labelFontSize": 20, "labelPadding": 9, "title": "Vm (mV)", "titleX": 259, "titleY": 72, "titleBaseline": "middle"}},
    "y": {"field": "q", "type": "quantitative", "scale": {"domain": [0, 40], "range": [248, 23], "nice": false, "zero": false},
          "axis": {"orient": "left", "offset": -98, "values": [0,10,20,30,40], "labelPadding": 6, "title": ["Charge movement", "(nC/μF)"], "titleX": -85, "titleY": 135, "titleBaseline": "middle", "titleLineHeight": 29}},
    "strokeDash": {"field": "g", "type": "nominal", "scale": {"domain": ["DKO","WT"], "range": [[1,0],[8,4]]}, "legend": null}
   }},
  {"data": {"name": "ptsA"},
   "mark": {"type": "errorbar", "ticks": true, "size": 9, "thickness": 1.3, "color": "black"},
   "encoding": {"x": {"field": "v", "type": "quantitative", "axis": null}, "y": {"field": "lo", "type": "quantitative", "axis": null}, "y2": {"field": "hi"}}},
  {"data": {"name": "ptsA"},
   "mark": {"type": "point", "shape": "circle", "filled": true, "size": 64, "stroke": "black", "strokeWidth": 1.3, "opacity": 1},
   "encoding": {"x": {"field": "v", "type": "quantitative", "axis": null}, "y": {"field": "q", "type": "quantitative", "axis": null},
    "color": {"field": "g", "type": "nominal", "scale": {"domain": ["WT","DKO"], "range": ["black","white"]},
     "legend": {"orient": "none", "legendX": 107, "legendY": 33, "direction": "vertical", "title": null, "symbolType": "circle", "symbolSize": 64, "symbolStrokeColor": "black", "symbolStrokeWidth": 1.3, "labelFontSize": 20, "labelOffset": 7, "padding": 3, "rowPadding": 0, "strokeColor": "black"}}}},
  {"data": {"values": [{}]},
   "mark": {"type": "text", "text": "a", "fontSize": 24, "fontWeight": "bold", "align": "left", "baseline": "alphabetic"},
   "encoding": {"x": {"datum": -124.7, "type": "quantitative", "axis": null}, "y": {"datum": 40.0, "type": "quantitative", "axis": null}}}
 ]},
 {"resolve": {"axis": {"x": "independent", "y": "independent"}},
  "layer": [
  {"data": {"name": "curveB"},
   "mark": {"type": "line", "color": "black", "strokeWidth": 1.3, "interpolate": "monotone"},
   "encoding": {
    "x": {"field": "v", "type": "quantitative", "scale": {"domain": [-80, 80], "range": [576, 897], "nice": false, "zero": false},
          "axis": {"orient": "bottom", "offset": -802, "values": [-80,-60,-40,-20,0,20,40,60,80], "labelAngle": 270, "labelFontSize": 20, "labelPadding": 9, "title": "Vm (mV)", "titleX": 737, "titleY": 72, "titleBaseline": "middle"}},
    "y": {"field": "q", "type": "quantitative", "scale": {"domain": [0, 1], "range": [248, 25], "nice": false, "zero": false},
          "axis": {"orient": "left", "offset": -576, "values": [0,0.2,0.4,0.6,0.8,1.0], "format": ".1f", "labelPadding": 2, "title": ["Normalized charge", "movement"], "titleX": -85, "titleY": 138, "titleBaseline": "middle", "titleLineHeight": 29}},
    "strokeDash": {"field": "g", "type": "nominal", "scale": {"domain": ["DKO","WT"], "range": [[1,0],[8,4]]}, "legend": null}
   }},
  {"data": {"name": "ptsB"},
   "mark": {"type": "errorbar", "ticks": true, "size": 9, "thickness": 1.3, "color": "black"},
   "encoding": {"x": {"field": "v", "type": "quantitative", "axis": null}, "y": {"field": "lo", "type": "quantitative", "axis": null}, "y2": {"field": "hi"}}},
  {"data": {"name": "ptsB"},
   "mark": {"type": "point", "shape": "circle", "filled": true, "size": 64, "stroke": "black", "strokeWidth": 1.3, "opacity": 1},
   "encoding": {"x": {"field": "v", "type": "quantitative", "axis": null}, "y": {"field": "q", "type": "quantitative", "axis": null},
    "fill": {"field": "g", "type": "nominal", "scale": {"domain": ["WT","DKO"], "range": ["black","white"]}, "legend": null}}},
  {"data": {"values": [{}]},
   "mark": {"type": "text", "text": "b", "fontSize": 24, "fontWeight": "bold", "align": "left", "baseline": "alphabetic"},
   "encoding": {"x": {"datum": -124.3, "type": "quantitative", "axis": null}, "y": {"datum": 1.0135, "type": "quantitative", "axis": null}}}
 ]},
 {"layer": [
  {"data": {"name": "trC"},
   "mark": {"type": "line", "strokeWidth": 1.6, "interpolate": "monotone"},
   "encoding": {
    "x": {"field": "t", "type": "quantitative", "scale": {"domain": [0, 55], "range": [142, 367.5], "nice": false, "zero": false}, "axis": null},
    "y": {"field": "i", "type": "quantitative", "scale": {"domain": [-20, 20], "range": [574, 370], "nice": false, "zero": false}, "axis": null},
    "color": {"field": "v", "type": "nominal", "scale": {"domain": ["–50 mV","–30 mV","–10 mV","10 mV","30 mV"], "range": ["#222222","#e8262a","#22cc22","#e020e0","#2a2ae8"]},
     "legend": {"orient": "none", "legendX": 363, "legendY": 358, "direction": "vertical", "title": null, "symbolType": "M-3.5,0H3.5", "symbolSize": 100, "symbolOffset": 12.5, "symbolStrokeWidth": 2, "labelFontSize": 16, "labelOffset": 19, "padding": 6, "rowPadding": 2, "strokeColor": "black"}}
   }},
  {"data": {"values": [{}]},
   "mark": {"type": "text", "text": "WT", "fontSize": 23, "align": "center", "baseline": "middle"},
   "encoding": {"x": {"datum": 23.2, "type": "quantitative", "axis": null}, "y": {"datum": 7.8, "type": "quantitative", "axis": null}}},
  {"data": {"values": [{}]},
   "mark": {"type": "text", "text": "c", "fontSize": 24, "fontWeight": "bold", "align": "left", "baseline": "alphabetic"},
   "encoding": {"x": {"datum": -32.9, "type": "quantitative", "axis": null}, "y": {"datum": 21.96, "type": "quantitative", "axis": null}}},
  {"data": {"values": [{}]},
   "mark": {"type": "rule", "strokeWidth": 2, "color": "black"},
   "encoding": {"x": {"datum": 69.8, "type": "quantitative", "axis": null}, "y": {"datum": -2.9, "type": "quantitative", "axis": null}, "y2": {"datum": -12.9}}},
  {"data": {"values": [{}]},
   "mark": {"type": "rule", "strokeWidth": 2, "color": "black"},
   "encoding": {"x": {"datum": 71.7, "type": "quantitative", "axis": null}, "x2": {"datum": 81.7}, "y": {"datum": -14.9, "type": "quantitative", "axis": null}}},
  {"data": {"values": [{}]},
   "mark": {"type": "text", "text": "10 nA", "fontSize": 20, "align": "left", "baseline": "middle"},
   "encoding": {"x": {"datum": 71.5, "type": "quantitative", "axis": null}, "y": {"datum": -5.8, "type": "quantitative", "axis": null}}},
  {"data": {"values": [{}]},
   "mark": {"type": "text", "text": "10 ms", "fontSize": 20, "align": "left", "baseline": "middle"},
   "encoding": {"x": {"datum": 71.7, "type": "quantitative", "axis": null}, "y": {"datum": -11.9, "type": "quantitative", "axis": null}}}
 ]},
 {"layer": [
  {"data": {"name": "trD"},
   "mark": {"type": "line", "strokeWidth": 1.6, "interpolate": "monotone"},
   "encoding": {
    "x": {"field": "t", "type": "quantitative", "scale": {"domain": [0, 55], "range": [618, 843.5], "nice": false, "zero": false}, "axis": null},
    "y": {"field": "i", "type": "quantitative", "scale": {"domain": [-20, 20], "range": [559, 355], "nice": false, "zero": false}, "axis": null},
    "color": {"field": "v", "type": "nominal", "scale": {"domain": ["–50 mV","–30 mV","–10 mV","10 mV","30 mV"], "range": ["#222222","#e8262a","#22cc22","#e020e0","#2a2ae8"]}, "legend": null}
   }},
  {"data": {"values": [{}]},
   "mark": {"type": "text", "text": "DKO", "fontSize": 22, "align": "center", "baseline": "middle"},
   "encoding": {"x": {"datum": 26.3, "type": "quantitative", "axis": null}, "y": {"datum": 8.6, "type": "quantitative", "axis": null}}},
  {"data": {"values": [{}]},
   "mark": {"type": "text", "text": "d", "fontSize": 24, "fontWeight": "bold", "align": "left", "baseline": "alphabetic"},
   "encoding": {"x": {"datum": -12.7, "type": "quantitative", "axis": null}, "y": {"datum": 19.0, "type": "quantitative", "axis": null}}}
 ]},
 {"resolve": {"axis": {"x": "independent", "y": "independent"}},
  "layer": [
  {"data": {"name": "curveE"},
   "mark": {"type": "line", "color": "black", "strokeWidth": 1.3, "interpolate": "monotone"},
   "encoding": {
    "x": {"field": "v", "type": "quantitative", "scale": {"domain": [-80, 80], "range": [68, 470], "nice": false, "zero": false},
          "axis": {"orient": "bottom", "offset": -317, "values": [-80,-60,-40,-20,0,20,40,60,80], "labelExpr": "datum.value >= 0 && datum.value < 80 ? '' : datum.label", "labelPadding": 8, "title": null}},
    "y": {"field": "q", "type": "quantitative", "scale": {"domain": [-6, 2], "range": [942, 663], "nice": false, "zero": false},
          "axis": {"orient": "left", "offset": -269, "values": [-6,-4,-2,0,2], "labelPadding": 11, "title": null}},
    "strokeDash": {"field": "g", "type": "nominal", "scale": {"domain": ["DKO","WT"], "range": [[1,0],[8,4]]}, "legend": null}
   }},
  {"data": {"name": "ptsE"},
   "mark": {"type": "errorbar", "ticks": true, "size": 13, "thickness": 1.5, "color": "black"},
   "encoding": {"x": {"field": "v", "type": "quantitative", "axis": null}, "y": {"field": "lo", "type": "quantitative", "axis": null}, "y2": {"field": "hi"}}},
  {"data": {"name": "ptsE"},
   "mark": {"type": "point", "shape": "circle", "filled": true, "size": 95, "stroke": "black", "strokeWidth": 1.8, "opacity": 1},
   "encoding": {
    "x": {"field": "v", "type": "quantitative",
          "axis": {"orient": "top", "offset": -733, "values": [20,40,60], "domain": false, "ticks": false, "tickSize": 0, "labelPadding": 9, "title": "Vm (mV)", "titleX": 359, "titleY": -54, "titleBaseline": "middle"}},
    "y": {"field": "q", "type": "quantitative", "axis": null},
    "fill": {"field": "g", "type": "nominal", "scale": {"domain": ["WT","DKO"], "range": ["black","white"]}, "legend": null}}},
  {"data": {"values": [{}]},
   "mark": {"type": "text", "text": "e", "fontSize": 24, "fontWeight": "bold", "align": "left", "baseline": "alphabetic"},
   "encoding": {"x": {"datum": -103.9, "type": "quantitative", "axis": null}, "y": {"datum": 3.61, "type": "quantitative", "axis": null}}},
  {"data": {"values": [{}]},
   "mark": {"type": "text", "text": "I", "fontSize": 22, "fontStyle": "italic", "angle": 270, "align": "center", "baseline": "middle"},
   "encoding": {"x": {"datum": -27.5, "type": "quantitative", "axis": null}, "y": {"datum": -4.93, "type": "quantitative", "axis": null}}},
  {"data": {"values": [{}]},
   "mark": {"type": "text", "text": "Ca", "fontSize": 15, "angle": 270, "align": "center", "baseline": "middle"},
   "encoding": {"x": {"datum": -25.9, "type": "quantitative", "axis": null}, "y": {"datum": -4.36, "type": "quantitative", "axis": null}}},
  {"data": {"values": [{}]},
   "mark": {"type": "text", "text": "(μA/μF)", "fontSize": 22, "angle": 270, "align": "center", "baseline": "middle"},
   "encoding": {"x": {"datum": -28.3, "type": "quantitative", "axis": null}, "y": {"datum": -2.87, "type": "quantitative", "axis": null}}}
 ]},
 {"layer": [
  {"data": {"name": "trF"},
   "mark": {"type": "line", "strokeWidth": 1.6, "interpolate": "monotone"},
   "encoding": {
    "x": {"field": "t", "type": "quantitative", "scale": {"domain": [0, 540], "range": [587, 900.2], "nice": false, "zero": false}, "axis": null},
    "y": {"field": "i", "type": "quantitative", "scale": {"domain": [-40, 40], "range": [773, 513], "nice": false, "zero": false}, "axis": null},
    "color": {"field": "v", "type": "nominal", "scale": {"domain": ["–60 mV","10 mV","20 mV","30 mV","40 mV"], "range": ["#222222","#e8262a","#22cc22","#e020e0","#2a2ae8"]}, "legend": null}
   }},
  {"data": {"values": [{}]},
   "mark": {"type": "text", "text": "WT", "fontSize": 22, "align": "center", "baseline": "middle"},
   "encoding": {"x": {"datum": 234.5, "type": "quantitative", "axis": null}, "y": {"datum": 6.5, "type": "quantitative", "axis": null}}},
  {"data": {"values": [{}]},
   "mark": {"type": "text", "text": "f", "fontSize": 24, "fontWeight": "bold", "align": "left", "baseline": "alphabetic"},
   "encoding": {"x": {"datum": -32.8, "type": "quantitative", "axis": null}, "y": {"datum": 8.6, "type": "quantitative", "axis": null}}},
  {"data": {"values": [{}]},
   "mark": {"type": "rule", "strokeWidth": 2, "color": "black"},
   "encoding": {"x": {"datum": 213.8, "type": "quantitative", "axis": null}, "y": {"datum": -20, "type": "quantitative", "axis": null}, "y2": {"datum": -40}}},
  {"data": {"values": [{}]},
   "mark": {"type": "rule", "strokeWidth": 2, "color": "black"},
   "encoding": {"x": {"datum": 225.9, "type": "quantitative", "axis": null}, "x2": {"datum": 325.9}, "y": {"datum": -43.7, "type": "quantitative", "axis": null}}},
  {"data": {"values": [{}]},
   "mark": {"type": "text", "text": "20 nA", "fontSize": 22, "align": "left", "baseline": "middle"},
   "encoding": {"x": {"datum": 229.3, "type": "quantitative", "axis": null}, "y": {"datum": -25.8, "type": "quantitative", "axis": null}}},
  {"data": {"values": [{}]},
   "mark": {"type": "text", "text": "100 ms", "fontSize": 22, "align": "left", "baseline": "middle"},
   "encoding": {"x": {"datum": 232.8, "type": "quantitative", "axis": null}, "y": {"datum": -36.9, "type": "quantitative", "axis": null}}}
 ]},
 {"layer": [
  {"data": {"name": "trG"},
   "mark": {"type": "line", "strokeWidth": 1.6, "interpolate": "monotone"},
   "encoding": {
    "x": {"field": "t", "type": "quantitative", "scale": {"domain": [0, 540], "range": [587, 900.2], "nice": false, "zero": false}, "axis": null},
    "y": {"field": "i", "type": "quantitative", "scale": {"domain": [-40, 40], "range": [1018, 758], "nice": false, "zero": false}, "axis": null},
    "color": {"field": "v", "type": "nominal", "scale": {"domain": ["–60 mV","10 mV","20 mV","30 mV","40 mV"], "range": ["#222222","#e8262a","#22cc22","#e020e0","#2a2ae8"]},
     "legend": {"orient": "none", "legendX": 672, "legendY": 929, "direction": "vertical", "title": null, "symbolType": "M-3.5,0H3.5", "symbolSize": 100, "symbolOffset": 12.5, "symbolStrokeWidth": 2, "labelFontSize": 20, "labelOffset": 18, "padding": 7, "rowPadding": 0, "strokeColor": "black"}}
   }},
  {"data": {"values": [{}]},
   "mark": {"type": "text", "text": "DKO", "fontSize": 22, "align": "center", "baseline": "middle"},
   "encoding": {"x": {"datum": 250, "type": "quantitative", "axis": null}, "y": {"datum": 8.3, "type": "quantitative", "axis": null}}},
  {"data": {"values": [{}]},
   "mark": {"type": "text", "text": "g", "fontSize": 24, "fontWeight": "bold", "align": "left", "baseline": "alphabetic"},
   "encoding": {"x": {"datum": -37.9, "type": "quantitative", "axis": null}, "y": {"datum": 20.9, "type": "quantitative", "axis": null}}}
 ]}
],
"resolve": {
 "scale": {"x": "independent", "y": "independent", "color": "independent", "fill": "independent", "strokeDash": "independent"},
 "axis": {"x": "independent", "y": "independent"},
 "legend": {"color": "independent", "fill": "independent"}
}
}
